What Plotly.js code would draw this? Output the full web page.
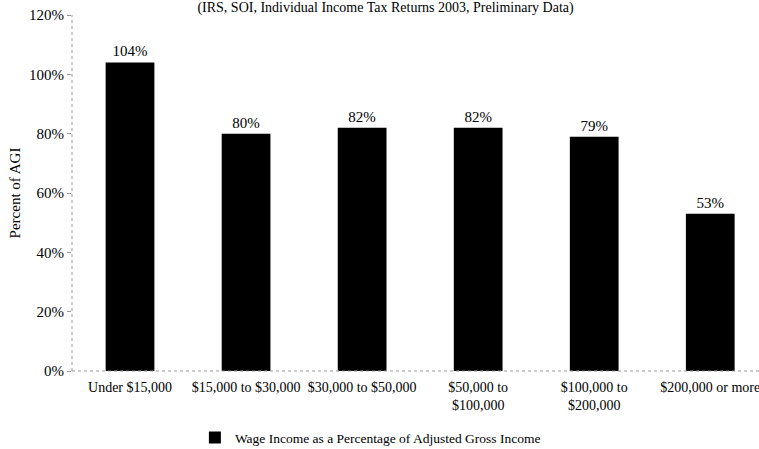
<!DOCTYPE html>
<html>
<head>
<meta charset="utf-8">
<script src="https://cdn.plot.ly/plotly-3.0.1.min.js"></script>
<style>html,body{margin:0;padding:0;background:#fff;}#chart{width:759px;height:449px;}</style>
</head>
<body>
<div id="chart"></div>
<script>
const categories = ["Under $15,000", "$15,000 to $30,000", "$30,000 to $50,000", "$50,000 to<br>$100,000", "$100,000 to<br>$200,000", "$200,000 or more"];
const wagePct = [104, 80, 82, 82, 79, 53];
const seriesName = "Wage Income as a Percentage of Adjusted Gross Income";
const yTickVals = [0, 20, 40, 60, 80, 100, 120];
const yTickText = ["0%", "20%", "40%", "60%", "80%", "100%", "120%"];

const serif = "Liberation Serif, Times New Roman, serif";

const trace = {
  type: "bar",
  x: categories,
  y: wagePct,
  name: seriesName,
  marker: {color: "#000000"},
  text: wagePct.map(v => v + "%"),
  textposition: "outside",
  textfont: {family: serif, size: 15, color: "#000"},
  cliponaxis: false,
  showlegend: true
};

const layout = {
  width: 759, height: 449,
  margin: {l: 72, r: 0, t: 15, b: 78},
  paper_bgcolor: "#fff", plot_bgcolor: "#fff",
  font: {family: serif, size: 14, color: "#000"},
  title: {
    text: "(IRS, SOI, Individual Income Tax Returns 2003, Preliminary Data)",
    xref: "container", x: 0.508, xanchor: "center",
    yref: "container", y: 0.985, yanchor: "middle",
    font: {family: serif, size: 14, color: "#000"}
  },
  bargap: 0.58,
  xaxis: {
    type: "category",
    range: [-0.5, 5.42],
    showline: false, showgrid: false, zeroline: false,
    ticks: "", tickfont: {family: serif, size: 14, color: "#000"},
    ticklabelstandoff: 6
  },
  yaxis: {
    range: [0, 120],
    tickvals: yTickVals, ticktext: yTickText,
    showline: false, showgrid: false, zeroline: false,
    ticks: "outside", ticklen: 4, tickcolor: "#999",
    tickfont: {family: serif, size: 15, color: "#000"},
    title: {text: "Percent of AGI", font: {family: serif, size: 15, color: "#000"}, standoff: 4}
  },
  shapes: [
    {type: "line", xref: "paper", yref: "paper", x0: 0, x1: 0, y0: 0, y1: 1, line: {color: "#999", width: 1, dash: "dot"}},
    {type: "line", xref: "paper", yref: "paper", x0: 0, x1: 1, y0: 0, y1: 0, line: {color: "#999", width: 1, dash: "dot"}}
  ],
  legend: {
    orientation: "h",
    xref: "container", x: 0.488, xanchor: "center",
    yref: "container", y: 0.025, yanchor: "middle",
    font: {family: serif, size: 13.5, color: "#000"},
    itemwidth: 30
  }
};

Plotly.newPlot("chart", [trace], layout, {displayModeBar: false, staticPlot: true});
</script>
</body>
</html>
